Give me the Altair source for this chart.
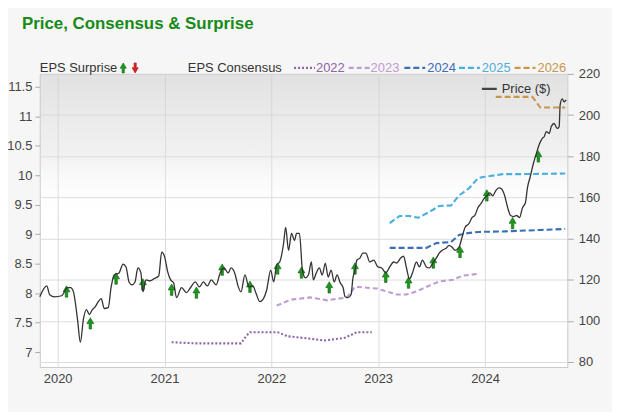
import altair as alt
import pandas as pd

FONT = "Liberation Sans"

# ---------------- data ----------------
price_t = [2019.833, 2019.898, 2019.926, 2019.972, 2020.037, 2020.093, 2020.121, 2020.148, 2020.186, 2020.213,
           2020.241, 2020.269, 2020.297, 2020.325, 2020.353, 2020.380, 2020.408, 2020.436, 2020.473, 2020.501,
           2020.529, 2020.575, 2020.612, 2020.640, 2020.668, 2020.696, 2020.724, 2020.751, 2020.779, 2020.798,
           2020.826, 2020.863, 2020.900, 2020.946, 2020.974, 2021.002, 2021.030, 2021.058, 2021.085, 2021.113,
           2021.160, 2021.206, 2021.243, 2021.289, 2021.327, 2021.364, 2021.401, 2021.438, 2021.484, 2021.521,
           2021.558, 2021.596, 2021.623, 2021.660, 2021.688, 2021.716, 2021.753, 2021.790, 2021.827, 2021.855,
           2021.892, 2021.920, 2021.957, 2021.994, 2022.022, 2022.050, 2022.078, 2022.115, 2022.134, 2022.161,
           2022.189, 2022.217, 2022.236, 2022.263, 2022.291, 2022.319, 2022.347, 2022.375, 2022.393, 2022.421,
           2022.449, 2022.477, 2022.505, 2022.532, 2022.560, 2022.588, 2022.616, 2022.644, 2022.672, 2022.690,
           2022.718, 2022.746, 2022.764, 2022.783, 2022.801, 2022.829, 2022.857, 2022.885, 2022.922, 2022.959,
           2022.996, 2023.033, 2023.071, 2023.108, 2023.145, 2023.173, 2023.210, 2023.237, 2023.265, 2023.293,
           2023.321, 2023.358, 2023.386, 2023.414, 2023.451, 2023.479, 2023.516, 2023.544, 2023.571, 2023.599,
           2023.636, 2023.664, 2023.692, 2023.720, 2023.757, 2023.785, 2023.813, 2023.850, 2023.878, 2023.905,
           2023.933, 2023.961, 2023.989, 2024.017, 2024.045, 2024.072, 2024.100, 2024.128, 2024.156, 2024.184,
           2024.212, 2024.239, 2024.267, 2024.295, 2024.323, 2024.351, 2024.378, 2024.397, 2024.425, 2024.453,
           2024.481, 2024.508, 2024.536, 2024.555, 2024.573, 2024.601, 2024.620, 2024.647, 2024.675, 2024.694,
           2024.703, 2024.722, 2024.740, 2024.759]
price_v = [111.7, 117.0, 112.7, 111.7, 112.2, 116.1, 116.1, 114.1, 100.7, 89.6,
           100.7, 105.5, 103.1, 105.5, 106.9, 109.3, 110.8, 106.0, 106.4, 116.5,
           122.3, 123.3, 127.6, 126.2, 118.9, 117.5, 118.9, 125.7, 123.3, 114.1,
           119.9, 119.4, 120.4, 121.8, 133.4, 131.0, 123.8, 119.9, 118.5, 111.3,
           116.1, 113.7, 116.1, 118.9, 116.5, 118.9, 117.0, 119.9, 117.5, 123.3,
           125.7, 123.3, 125.7, 122.8, 117.0, 114.1, 122.3, 116.5, 117.0, 113.7,
           109.3, 110.3, 115.1, 124.7, 118.9, 127.1, 128.6, 137.7, 145.4, 134.3,
           142.5, 139.1, 142.5, 142.5, 124.7, 120.9, 122.3, 128.6, 119.9, 123.3,
           125.7, 122.3, 128.1, 121.3, 124.7, 118.9, 122.3, 118.5, 116.1, 111.7,
           111.3, 112.7, 120.9, 124.7, 129.5, 130.5, 132.9, 132.9, 128.6, 129.5,
           126.2, 125.7, 123.3, 126.2, 128.6, 128.1, 130.5, 131.4, 125.7, 120.4,
           123.3, 128.6, 126.2, 129.5, 126.2, 125.7, 128.6, 130.5, 132.9, 134.3,
           135.3, 136.7, 135.8, 134.3, 135.8, 140.6, 145.4, 147.3, 150.2, 151.2,
           155.0, 156.9, 159.3, 160.8, 162.2, 160.8, 163.2, 164.6, 164.1, 160.8,
           155.0, 151.2, 150.7, 151.2, 150.2, 155.0, 157.4, 164.6, 170.4, 176.6,
           181.4, 185.8, 188.7, 189.6, 192.0, 191.1, 194.4, 195.9, 193.5, 194.4,
           205.0, 207.9, 206.4, 207.4]

cons_2022_t = [2021.067, 2021.289, 2021.716, 2021.763, 2021.800, 2022.059, 2022.152, 2022.310, 2022.495,
               2022.681, 2022.755, 2022.801, 2022.941]
cons_2022_v = [7.17, 7.15, 7.15, 7.27, 7.34, 7.34, 7.27, 7.24, 7.20, 7.24, 7.30, 7.34, 7.34]

cons_2023_t = [2022.050, 2022.180, 2022.365, 2022.523, 2022.709, 2022.783, 2022.987, 2023.173, 2023.265,
               2023.358, 2023.479, 2023.571, 2023.701, 2023.794, 2023.942]
cons_2023_v = [7.79, 7.89, 7.93, 7.88, 7.93, 8.11, 8.08, 7.98, 7.98, 8.03, 8.13, 8.20, 8.23, 8.30, 8.33]

cons_2024_t = [2023.108, 2023.451, 2023.544, 2023.683, 2023.757, 2023.840, 2023.942, 2024.193, 2024.750]
cons_2024_v = [8.77, 8.77, 8.85, 8.87, 8.99, 9.02, 9.04, 9.05, 9.09]

cons_2025_t = [2023.108, 2023.200, 2023.293, 2023.377, 2023.479, 2023.571, 2023.683, 2023.757, 2023.850,
               2023.933, 2023.980, 2024.165, 2024.314, 2024.750]
cons_2025_v = [9.19, 9.31, 9.31, 9.28, 9.38, 9.48, 9.49, 9.66, 9.78, 9.95, 9.97, 10.02, 10.02, 10.03]

cons_2026_t = [2024.100, 2024.443, 2024.518, 2024.750]
cons_2026_v = [11.33, 11.33, 11.15, 11.15]

surprise_t = [2020.083, 2020.306, 2020.547, 2020.798, 2021.067, 2021.299, 2021.540, 2021.800, 2022.059,
              2022.282, 2022.542, 2022.783, 2023.071, 2023.284, 2023.516, 2023.766, 2024.017, 2024.258,
              2024.499]
surprise_v = [8.03, 7.49, 8.25, 8.15, 8.06, 8.01, 8.40, 8.11, 8.42, 8.35, 8.10, 8.42, 8.28, 8.18, 8.52,
              8.70, 9.66, 9.19, 10.32]

years = ["2022", "2023", "2024", "2025", "2026"]
year_colors = ["#9062a8", "#c09ad2", "#3a6eb6", "#4aaee0", "#c9974c"]
year_dashes = [[2, 2], [5, 3], [6, 3], [6, 3], [6, 3]]

eps_ticks = [7, 7.5, 8, 8.5, 9, 9.5, 10, 10.5, 11, 11.5]
price_ticks = [80, 100, 120, 140, 160, 180, 200, 220]
year_ticks = [2020, 2021, 2022, 2023, 2024]

title_text = "Price, Consensus & Surprise"

# ---------------- frames ----------------
price_df = pd.DataFrame({"t": price_t, "p": price_v})
cons_frames = []
for y, tt, vv in zip(years,
                     [cons_2022_t, cons_2023_t, cons_2024_t, cons_2025_t, cons_2026_t],
                     [cons_2022_v, cons_2023_v, cons_2024_v, cons_2025_v, cons_2026_v]):
    cons_frames.append(pd.DataFrame({"t": tt, "v": vv, "year": y}))
cons_df = pd.concat(cons_frames, ignore_index=True)
surp_df = pd.DataFrame({"t": surprise_t, "v": surprise_v})

W, H = 531, 295

x_axis = alt.Axis(values=year_ticks, format="d", grid=True, gridColor="#dcdcdc", ticks=False,
                  domain=False, labelFontSize=13, labelColor="#444", labelPadding=6, title=None,
                  labelFont=FONT)
x_enc = alt.X("t:Q", scale=alt.Scale(domain=[2019.833, 2024.77], nice=False, zero=False), axis=x_axis)

eps_scale = alt.Scale(domain=[6.75, 11.72], nice=False, zero=False)
eps_axis = alt.Axis(orient="left", values=eps_ticks, format="~g", grid=False, domain=False,
                    tickSize=5, tickColor="#aaa", labelFontSize=13, labelColor="#444",
                    labelPadding=3, title=None, labelFont=FONT)
price_scale = alt.Scale(domain=[77.6, 220], nice=False, zero=False)
price_axis = alt.Axis(orient="right", values=price_ticks, grid=True, gridColor="#dcdcdc", domain=False,
                      tickSize=6, tickColor="#aaa", labelFontSize=13, labelColor="#444",
                      labelPadding=5, title=None, labelFont=FONT)

bg = alt.Chart(pd.DataFrame({"a": [0]})).mark_rect(
    fill=alt.LinearGradient(gradient="linear",
                            stops=[alt.GradientStop(color="rgba(205,205,205,0.6)", offset=0),
                                   alt.GradientStop(color="rgba(220,220,220,0.4)", offset=0.28),
                                   alt.GradientStop(color="rgba(240,240,240,0.15)", offset=0.4),
                                   alt.GradientStop(color="rgba(255,255,255,0)", offset=0.5),
                                   alt.GradientStop(color="rgba(255,255,255,0)", offset=1)],
                            x1=0, x2=0, y1=0, y2=1)
).encode(x=alt.value(0), x2=alt.value(W), y=alt.value(0), y2=alt.value(H))

cons = alt.Chart(cons_df).mark_line(strokeWidth=2.1).encode(
    x=x_enc,
    y=alt.Y("v:Q", scale=eps_scale, axis=eps_axis),
    color=alt.Color("year:N", scale=alt.Scale(domain=years, range=year_colors), legend=None),
    strokeDash=alt.StrokeDash("year:N", scale=alt.Scale(domain=years, range=year_dashes), legend=None),
    detail="year:N",
)

UP = "M-0.22,1L0.22,1L0.22,0.05L0.62,0.05L0,-1L-0.62,0.05L-0.22,0.05Z"
DOWN = "M-0.22,-1L0.22,-1L0.22,-0.05L0.62,-0.05L0,1L-0.62,-0.05L-0.22,-0.05Z"

arrows = alt.Chart(surp_df).mark_point(shape=UP, filled=True, size=130, fill="#1d961d",
                                       stroke="#0c660c", strokeWidth=0.6, opacity=1).encode(
    x=x_enc,
    y=alt.Y("v:Q", scale=eps_scale, axis=eps_axis),
)

eps_layer = alt.layer(cons, arrows)

price = alt.Chart(price_df).mark_line(color="#333333", strokeWidth=1.3, interpolate="monotone").encode(
    x=x_enc,
    y=alt.Y("p:Q", scale=price_scale, axis=price_axis),
)


def txt(s, x, y, color, size=13, weight="normal"):
    return alt.Chart(pd.DataFrame({"s": [s]})).mark_text(
        align="left", baseline="middle", fontSize=size, fontWeight=weight, color=color, font=FONT
    ).encode(x=alt.value(x), y=alt.value(y), text="s:N")


def sample(x1, x2, y, color, dash, width=2.2):
    return alt.Chart(pd.DataFrame({"a": [0]})).mark_rule(
        color=color, strokeDash=dash, strokeWidth=width
    ).encode(x=alt.value(x1), x2=alt.value(x2), y=alt.value(y))


def sym(shape, x, y, color, stroke):
    return alt.Chart(pd.DataFrame({"a": [0]})).mark_point(
        shape=shape, filled=True, size=100, fill=color, stroke=stroke, strokeWidth=0.6, opacity=1
    ).encode(x=alt.value(x), y=alt.value(y))


legend_layers = [
    txt(title_text, -18, -50, "#178a17", size=17, weight="bold"),
    txt("EPS Surprise", 0, -6, "#333"),
    sym(UP, 84, -6, "#1d961d", "#0c660c"),
    sym(DOWN, 96, -6, "#e02020", "#a01010"),
    txt("EPS Consensus", 149, -6, "#333"),
]
sample_x = [256, 311, 367, 422, 478]
text_x = [278, 333, 390, 445, 501]
for y, c, d, sx, tx in zip(years, year_colors, year_dashes, sample_x, text_x):
    legend_layers.append(sample(sx, sx + 21, -6, c, d))
    legend_layers.append(txt(y, tx, -6, c))

legend_layers.append(sample(445, 460, 15, "#444", [1, 0]))
legend_layers.append(txt("Price ($)", 465, 15, "#333"))

chart = alt.layer(bg, eps_layer, price, *legend_layers).resolve_scale(
    y="independent"
).properties(
    width=W, height=H,
    autosize=alt.AutoSizeParams(type="none"),
    padding={"left": 32, "top": 65, "right": 45, "bottom": 44},
    background="#f6f6f6",
).configure_view(stroke="#c8c8c8", fill="#ffffff")

chart.save("out.html", embed_options={"renderer": "svg", "actions": False})
